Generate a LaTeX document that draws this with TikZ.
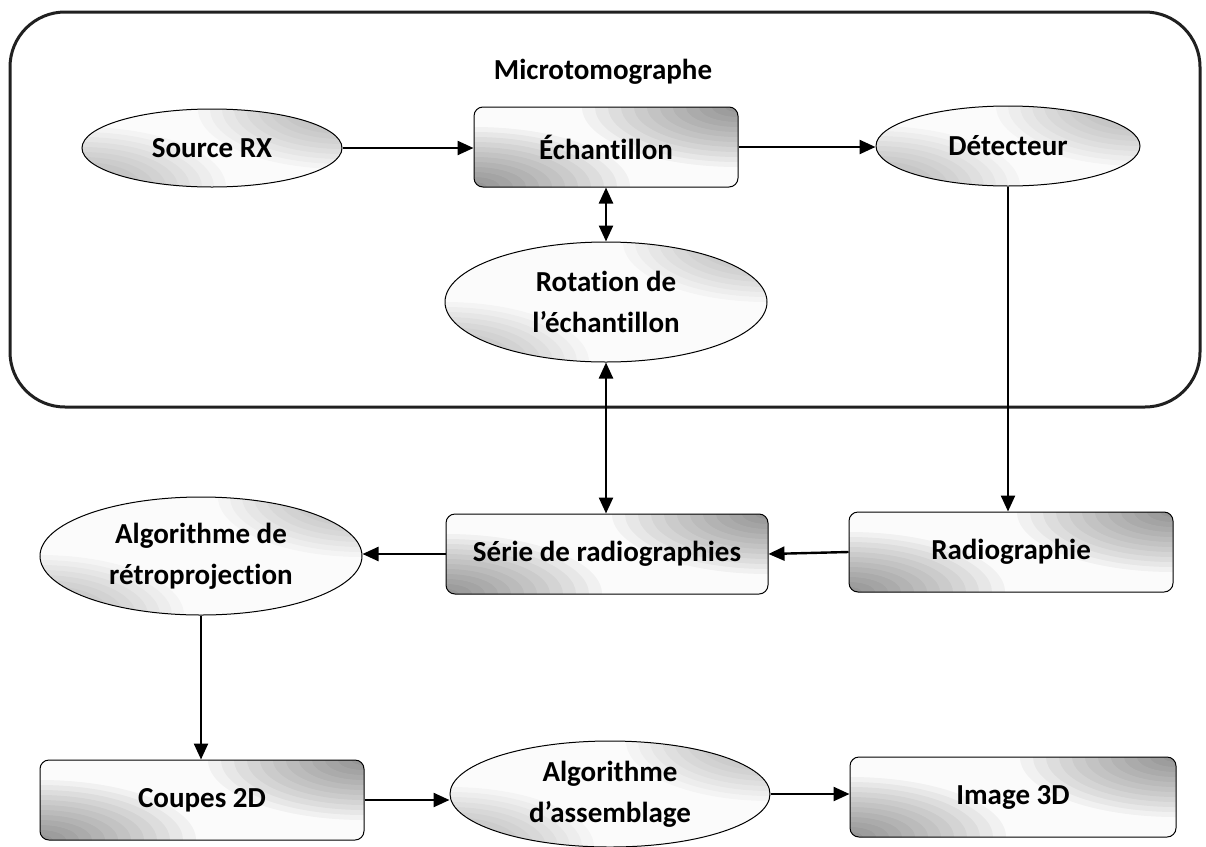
\documentclass[tikz,border=0pt]{standalone}
\usepackage{fontspec}
\setmainfont{Carlito}[Ligatures={NoCommon}]
\usetikzlibrary{shapes.geometric,arrows.meta}

\begin{document}
\begin{tikzpicture}[x=1pt,y=-1pt,
  txt/.style={font=\bfseries\fontsize{29}{41}\selectfont, align=center},
  % pale face that darkens towards the upper-right and lower-left corners
  panel/.style 2 args={txt, draw=black, line width=1pt, fill=gray!3, inner sep=0pt,
    path picture={
      \foreach \k in {1,...,12}{
        \fill[black, opacity=#1]
          (path picture bounding box.north east) ellipse [x radius={\k*#2}, y radius={\k*5pt}];
        \fill[black, opacity=#1]
          (path picture bounding box.south west) ellipse [x radius={\k*#2}, y radius={\k*5pt}];
      }
    }},
  stepbox/.style={panel={0.04}{13pt}, rectangle, rounded corners=9pt, minimum width=#1, minimum height=80pt},
  stepbox/.default=324pt,
  oval/.style 2 args={panel={0.026}{12pt}, ellipse, minimum width=#1, minimum height=#2},
  tip/.tip={Triangle[length=16pt,width=14pt]},
  link/.style={line width=2.4pt, -tip},
  twoway/.style={line width=2.4pt, tip-tip}]

\useasboundingbox (0,0) rectangle (1206,846);

% enclosing frame of the instrument
\draw[line width=3pt, draw=gray!25!black, rounded corners=55pt] (10,12) rectangle (1200,407);
\node[txt] (title) at (603,72) {Microtomographe};

% instrument parts
\node[oval={260pt}{78pt}] (src) at (212,148) {Source RX};
\node[stepbox=264pt] (ech) at (606,147) {Échantillon};
\node[oval={264pt}{80pt}] (det) at (1008,146) {Détecteur};
\node[oval={322pt}{120pt}] (rot) at (606,302) {Rotation de\\l’échantillon};

% acquisition and reconstruction chain
\node[stepbox=322pt] (serie) at (607,554) {Série de radiographies};
\node[stepbox=324pt] (radio) at (1011,552) {Radiographie};
\node[oval={322pt}{118pt}] (retro) at (201,556) {Algorithme de\\rétroprojection};
\node[stepbox=324pt] (coupes) at (202,800) {Coupes 2D};
\node[oval={320pt}{106pt}] (assem) at (610,794) {Algorithme\\d’assemblage};
\node[stepbox=326pt] (img) at (1013,797) {Image 3D};

% connectors
\draw[link] (src.east) -- (src.east -| ech.west);
\draw[link] (ech.east) -- (ech.east -| det.west);
\draw[twoway] (ech.south -| rot.north) -- (rot.north);
\draw[twoway] (rot.south) -- (rot.south |- serie.north);
\draw[link] (det.south) -- (det.south |- radio.north);
\draw[link] (radio.west) -- (serie.east);
\draw[link] (serie.west) -- (serie.west -| retro.east);
\draw[link] (retro.south) -- (retro.south |- coupes.north);
\draw[link] (coupes.east) -- (coupes.east -| assem.west);
\draw[link] (assem.east) -- (assem.east -| img.west);

\end{tikzpicture}
\end{document}
